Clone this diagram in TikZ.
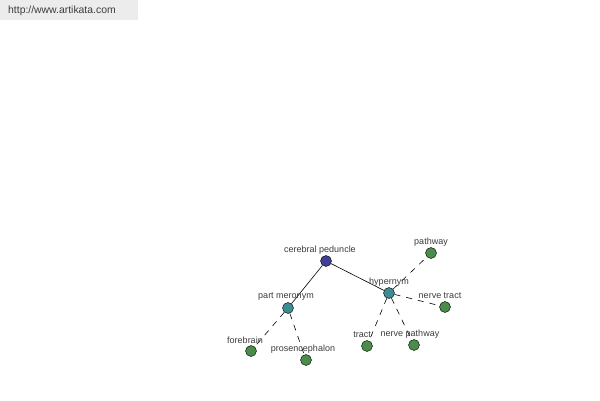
\documentclass[tikz,border=0pt]{standalone}
\usepackage{fontspec}
\setmainfont{Liberation Sans}
\usetikzlibrary{positioning}

\definecolor{rootblue}{RGB}{64,64,150}
\definecolor{relteal}{RGB}{60,140,145}
\definecolor{leafgreen}{RGB}{75,140,75}
\definecolor{bargray}{RGB}{236,236,236}
\definecolor{labelgray}{RGB}{60,60,60}

\tikzset{
    dot/.style={circle, draw=black, line width=0.4pt, minimum size=11pt, inner sep=0pt},
    rootdot/.style={dot, fill=rootblue},
    reldot/.style={dot, fill=relteal},
    leafdot/.style={dot, fill=leafgreen},
    wordlabel/.style={font=\fontsize{9}{10}\selectfont, text=labelgray, inner sep=0pt},
    solidlink/.style={draw=black, line width=0.6pt},
    dashlink/.style={draw=black, line width=0.6pt, dash pattern=on 6pt off 6pt}
}

\begin{document}
\begin{tikzpicture}[x=1pt,y=-1pt]

    % Canvas
    \useasboundingbox (0,0) rectangle (600,400);
    \fill[white] (0,0) rectangle (600,400);

    % Site banner
    \fill[bargray] (0,0) rectangle (138,20);
    \node[anchor=west, font=\fontsize{10.4}{12}\selectfont, text=labelgray, inner sep=0pt] (site) at (8,11) {http://www.artikata.com};

    % Dots
    \node[rootdot] (peduncle) at (326,261) {};
    \node[reldot] (hyper) at (389,293) {};
    \node[reldot] (meronym) at (288,308) {};
    \node[leafdot] (pathway) at (431,253) {};
    \node[leafdot] (nervetract) at (445,307) {};
    \node[leafdot] (tract) at (367,346) {};
    \node[leafdot] (nervepath) at (414,345) {};
    \node[leafdot] (forebrain) at (251,351) {};
    \node[leafdot] (prosen) at (306,360) {};

    % Links
    \draw[solidlink] (peduncle) -- (hyper);
    \draw[solidlink] (peduncle) -- (meronym);
    \draw[dashlink] (hyper) -- (pathway);
    \draw[dashlink] (hyper) -- (nervetract);
    \draw[dashlink] (hyper) -- (tract);
    \draw[dashlink] (hyper) -- (nervepath);
    \draw[dashlink] (meronym) -- (forebrain);
    \draw[dashlink] (meronym) -- (prosen);

    % Labels
    \node[wordlabel] (peduncle-l) at (320,250) {cerebral peduncle};
    \node[wordlabel] (hyper-l) at (389,282) {hypernym};
    \node[wordlabel] (meronym-l) at (286,297) {part meronym};
    \node[wordlabel] (pathway-l) at (431,242) {pathway};
    \node[wordlabel] (nervetract-l) at (440,296) {nerve tract};
    \node[wordlabel] (tract-l) at (362,335) {tract};
    \node[wordlabel] (nervepath-l) at (410,334) {nerve pathway};
    \node[wordlabel] (forebrain-l) at (245,340) {forebrain};
    \node[wordlabel] (prosen-l) at (303,349) {prosencephalon};

\end{tikzpicture}
\end{document}
